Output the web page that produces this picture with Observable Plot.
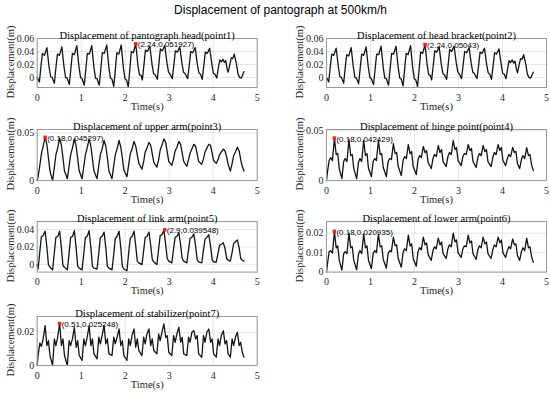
<!DOCTYPE html>
<html><head><meta charset="utf-8">
<script src="https://cdn.jsdelivr.net/npm/d3@7"></script>
<script src="https://cdn.jsdelivr.net/npm/@observablehq/plot@0.6"></script>
<style>
body{margin:0;background:#fff;}
#fig{position:relative;width:550px;height:395px;overflow:hidden;background:#fff;}
#title{position:absolute;left:0;width:561px;top:3px;text-align:center;font:12px "Liberation Sans",Arial,sans-serif;color:#000;}
#fig svg{overflow:visible;}
.ylab{position:absolute;white-space:nowrap;font:10.5px "Liberation Serif","Times New Roman",serif;color:#262626;transform:translate(-50%,-50%) rotate(-90deg);line-height:1;}
</style></head><body><div id="fig"><div id="title">Displacement of pantograph at 500km/h</div></div>
<script>
// ---- data ----
const tA = [0,
0.05,0.09,0.12,0.165,0.22,0.27,0.305,0.34,
0.39,0.43,0.46,0.505,0.56,0.61,0.645,0.68,
0.73,0.77,0.80,0.845,0.90,0.95,0.985,1.02,
1.07,1.11,1.14,1.185,1.24,1.29,1.325,1.36,
1.41,1.45,1.48,1.525,1.58,1.63,1.665,1.70,
1.74,1.78,1.81,1.855,1.91,1.96,1.995,2.03,
2.07,2.11,2.14,2.185,2.24,2.29,2.325,2.36,
2.39,2.43,2.46,2.505,2.56,2.61,2.645,2.68,
2.73,2.77,2.80,2.845,2.90,2.95,2.985,3.02,
3.07,3.11,3.14,3.185,3.24,3.29,3.325,3.36,
3.42,3.46,3.49,3.535,3.59,3.64,3.675,3.71,
3.75,3.79,3.82,3.865,3.92,3.97,4.005,4.04,
4.08,4.12,4.15,4.185,4.22,4.255,4.285,4.32,
4.34,4.38,4.41,4.445,4.48,4.53,4.565,4.60,
4.64,4.70];

const tB = [0,
0.02,0.06,0.095,0.135,0.18,0.22,0.255,0.29,
0.35,0.39,0.425,0.465,0.51,0.55,0.585,0.62,
0.685,0.725,0.76,0.80,0.845,0.885,0.92,0.955,
1.02,1.06,1.095,1.135,1.18,1.22,1.255,1.29,
1.36,1.40,1.435,1.475,1.52,1.56,1.595,1.63,
1.70,1.74,1.775,1.815,1.86,1.90,1.935,1.97,
2.04,2.08,2.115,2.155,2.20,2.24,2.275,2.31,
2.38,2.42,2.455,2.495,2.54,2.58,2.615,2.65,
2.72,2.76,2.795,2.835,2.88,2.92,2.955,2.99,
3.06,3.10,3.135,3.175,3.22,3.26,3.295,3.33,
3.40,3.44,3.475,3.515,3.56,3.60,3.635,3.67,
3.74,3.78,3.815,3.855,3.90,3.94,3.975,4.01,
4.07,4.11,4.145,4.185,4.23,4.27,4.305,4.34,
4.39,4.43,4.465,4.505,4.55,4.59,4.625,4.66,
4.70];

const y1 = [0,
-0.007,0.020,0.037,0.034,0.046,0.016,0.001,0.000,
-0.009,0.018,0.036,0.034,0.047,0.016,0.000,-0.001,
-0.011,0.017,0.037,0.035,0.049,0.016,0.000,-0.002,
-0.012,0.016,0.037,0.036,0.049,0.015,-0.001,-0.002,
-0.012,0.016,0.038,0.037,0.050,0.015,-0.001,-0.003,
-0.014,0.015,0.038,0.036,0.050,0.014,-0.002,-0.004,
-0.015,0.016,0.040,0.038,0.051927,0.018,0.004,0.003,
-0.004,0.022,0.042,0.040,0.048,0.020,0.006,0.004,
-0.003,0.024,0.044,0.041,0.049,0.022,0.008,0.005,
-0.002,0.022,0.041,0.039,0.047,0.022,0.008,0.006,
-0.002,0.021,0.040,0.038,0.046,0.020,0.007,0.005,
-0.003,0.020,0.039,0.037,0.045,0.020,0.006,0.005,
-0.001,0.016,0.027,0.024,0.028,0.023,0.026,0.012,
0.008,0.020,0.030,0.029,0.036,0.020,0.005,0.000,
-0.001,0.009];

const y2 = [0,
-0.007,0.019,0.036,0.034,0.045,0.016,0.001,0.000,
-0.009,0.018,0.035,0.033,0.046,0.016,0.000,-0.001,
-0.010,0.017,0.036,0.034,0.047,0.016,0.000,-0.002,
-0.011,0.016,0.036,0.035,0.048,0.015,-0.001,-0.002,
-0.012,0.016,0.037,0.036,0.048,0.015,-0.001,-0.003,
-0.013,0.015,0.037,0.035,0.049,0.014,-0.002,-0.004,
-0.014,0.016,0.039,0.037,0.05043,0.018,0.004,0.003,
-0.004,0.021,0.041,0.039,0.047,0.020,0.006,0.004,
-0.003,0.023,0.043,0.040,0.048,0.022,0.008,0.005,
-0.002,0.022,0.040,0.038,0.046,0.021,0.008,0.006,
-0.002,0.020,0.039,0.037,0.045,0.020,0.007,0.005,
-0.003,0.020,0.038,0.036,0.044,0.020,0.006,0.005,
-0.002,0.015,0.026,0.023,0.027,0.022,0.025,0.012,
0.007,0.020,0.029,0.028,0.035,0.020,0.005,0.000,
-0.001,0.008];

const y3 = [0,
0.004,0.016,0.028,0.036,0.045297,0.038,0.024,0.010,
0.000,0.014,0.027,0.034,0.0445,0.037,0.024,0.010,
0.002,0.015,0.027,0.034,0.0438,0.036,0.023,0.010,
0.002,0.015,0.027,0.034,0.0437,0.036,0.023,0.010,
0.002,0.016,0.027,0.033,0.042,0.036,0.024,0.010,
0.002,0.016,0.027,0.033,0.042,0.035,0.024,0.011,
0.004,0.017,0.028,0.033,0.041,0.036,0.027,0.018,
0.012,0.020,0.030,0.034,0.040,0.037,0.028,0.019,
0.014,0.022,0.032,0.037,0.0437,0.040,0.030,0.020,
0.016,0.023,0.031,0.035,0.041,0.038,0.029,0.020,
0.015,0.022,0.029,0.033,0.038,0.036,0.028,0.020,
0.017,0.023,0.030,0.034,0.038,0.037,0.029,0.021,
0.018,0.022,0.027,0.030,0.033,0.031,0.025,0.017,
0.010,0.018,0.026,0.030,0.035,0.031,0.022,0.015,
0.010];

const y4 = [0,
0.008,0.020,0.023,0.020,0.042429,0.026,0.027,0.012,
0.002,0.019,0.022,0.019,0.041,0.025,0.026,0.012,
0.002,0.018,0.022,0.019,0.040,0.025,0.027,0.012,
0.004,0.019,0.022,0.020,0.040,0.026,0.027,0.013,
0.004,0.019,0.022,0.021,0.037,0.027,0.028,0.014,
0.005,0.020,0.024,0.022,0.036,0.027,0.029,0.014,
0.006,0.021,0.025,0.023,0.034,0.028,0.030,0.018,
0.012,0.022,0.026,0.024,0.035,0.028,0.031,0.019,
0.014,0.024,0.028,0.026,0.040,0.031,0.033,0.020,
0.015,0.024,0.027,0.026,0.036,0.030,0.032,0.019,
0.013,0.023,0.027,0.025,0.035,0.029,0.031,0.019,
0.014,0.023,0.028,0.026,0.036,0.030,0.033,0.020,
0.015,0.022,0.026,0.024,0.033,0.028,0.029,0.017,
0.012,0.021,0.025,0.022,0.033,0.025,0.026,0.016,
0.010];

const y5 = [0,
-0.005,0.015,0.032,0.033,0.038,0.020,0.000,-0.003,
-0.006,0.014,0.031,0.032,0.038,0.019,-0.001,-0.003,
-0.006,0.013,0.031,0.032,0.0385,0.019,-0.002,-0.004,
-0.006,0.013,0.031,0.032,0.0385,0.019,-0.002,-0.004,
-0.005,0.013,0.031,0.032,0.037,0.019,-0.002,-0.004,
-0.006,0.012,0.030,0.032,0.038,0.019,-0.002,-0.005,
-0.007,0.014,0.030,0.032,0.038,0.021,0.004,0.002,
0.000,0.016,0.031,0.032,0.037,0.022,0.006,0.003,
0.000,0.018,0.033,0.034,0.039548,0.023,0.007,0.004,
0.002,0.018,0.031,0.032,0.036,0.022,0.007,0.004,
0.002,0.017,0.030,0.031,0.035,0.021,0.006,0.003,
0.002,0.017,0.029,0.031,0.034,0.021,0.006,0.003,
0.003,0.013,0.022,0.023,0.025,0.018,0.007,0.005,
0.004,0.014,0.024,0.026,0.028,0.019,0.007,0.005,
0.004];

const y6 = [0,
0.004,0.0105,0.011,0.0098,0.020935,0.0125,0.0135,0.006,
0.001,0.0095,0.0105,0.0095,0.0200,0.0125,0.013,0.006,
0.0012,0.009,0.011,0.0095,0.0195,0.0125,0.0135,0.006,
0.0018,0.0095,0.011,0.010,0.0195,0.013,0.0135,0.0065,
0.002,0.0095,0.011,0.0105,0.018,0.0135,0.014,0.007,
0.0025,0.010,0.012,0.011,0.019,0.0135,0.0145,0.007,
0.003,0.0105,0.0125,0.0115,0.018,0.014,0.015,0.009,
0.006,0.011,0.013,0.012,0.0175,0.014,0.0155,0.0095,
0.007,0.012,0.014,0.013,0.020,0.0155,0.0165,0.010,
0.0075,0.012,0.0135,0.013,0.019,0.015,0.016,0.0095,
0.0065,0.0115,0.0135,0.0125,0.018,0.0145,0.0155,0.0095,
0.007,0.0115,0.014,0.013,0.018,0.015,0.0165,0.010,
0.0075,0.011,0.013,0.012,0.017,0.014,0.0145,0.0085,
0.006,0.0105,0.0125,0.011,0.0175,0.0125,0.013,0.008,
0.005];

const y7 = [0,
0.006,0.0135,0.0115,0.016,0.024,0.012,0.015,0.006,
0.000,0.016,0.012,0.017,0.025248,0.012,0.016,0.006,
0.000,0.015,0.012,0.016,0.023,0.011,0.015,0.006,
0.003,0.016,0.012,0.017,0.024,0.012,0.016,0.007,
0.004,0.017,0.013,0.018,0.024,0.013,0.016,0.007,
0.006,0.017,0.013,0.017,0.022,0.012,0.015,0.006,
0.003,0.016,0.012,0.018,0.022,0.011,0.016,0.009,
0.006,0.017,0.013,0.019,0.022,0.012,0.016,0.009,
0.007,0.019,0.015,0.020,0.025,0.017,0.018,0.008,
0.006,0.018,0.014,0.019,0.023,0.014,0.017,0.007,
0.006,0.017,0.014,0.020,0.021,0.016,0.018,0.007,
0.005,0.018,0.014,0.020,0.022,0.014,0.016,0.007,
0.005,0.016,0.012,0.018,0.021,0.013,0.015,0.007,
0.005,0.016,0.012,0.017,0.020,0.012,0.014,0.008,
0.005];

const titles = [
  "Displacement of pantograph head(point1)",
  "Displacement of head bracket(point2)",
  "Displacement of upper arm(point3)",
  "Displacement of hinge point(point4)",
  "Displacement of link arm(point5)",
  "Displacement of lower arm(point6)",
  "Displacement of stabilizer(point7)"
];
const xTicks = [0, 1, 2, 3, 4, 5];
const yTicks1 = [0, 0.02, 0.04, 0.06];
const yTicks2 = [0, 0.02, 0.04, 0.06];
const yTicks3 = [0, 0.05];
const yTicks4 = [0, 0.05];
const yTicks5 = [0, 0.02, 0.04];
const yTicks6 = [0, 0.01, 0.02];
const yTicks7 = [0, 0.02];
const tipX = [2.24, 2.24, 0.18, 0.18, 2.9, 0.18, 0.51];
const tipY = [0.051927, 0.05043, 0.045297, 0.042429, 0.039548, 0.020935, 0.025248];
const tipText = ["(2.24,0.051927)", "(2.24,0.05043)", "(0.18,0.045297)", "(0.18,0.042429)", "(2.9,0.039548)", "(0.18,0.020935)", "(0.51,0.025248)"];
const xLabel = "Time(s)";
const yLabel = "Displacement(m)";

// ---- layout ----
const serif = "'Liberation Serif','Times New Roman',serif";
const sans = "'Liberation Sans',Arial,sans-serif";
const cols = [[36.7, 256.7], [326, 546]];
const rows = [[37.5, 86.5], [128.7, 179.8], [220.7, 271.3], [315.7, 364.7]];
const panels = [
  {t: tA, y: y1, dom: [-0.0156, 0.06], ticks: yTicks1, c: 0, r: 0},
  {t: tA, y: y2, dom: [-0.0156, 0.06], ticks: yTicks2, c: 1, r: 0},
  {t: tB, y: y3, dom: [0, 0.0535], ticks: yTicks3, c: 0, r: 1},
  {t: tB, y: y4, dom: [0, 0.051], ticks: yTicks4, c: 1, r: 1},
  {t: tB, y: y5, dom: [-0.0085, 0.049], ticks: yTicks5, c: 0, r: 2},
  {t: tB, y: y6, dom: [0, 0.026], ticks: yTicks6, c: 1, r: 2},
  {t: tB, y: y7, dom: [0, 0.0295], ticks: yTicks7, c: 0, r: 3}
];
const fig = document.getElementById("fig");
panels.forEach((p, i) => {
  const fx = cols[p.c], fy = rows[p.r];
  const left = p.c === 0 ? 0 : 275, W = 275, mt = 24, mb = 32;
  const data = p.t.map((d, k) => ({t: d, v: p.y[k]}));
  const tip = [{t: tipX[i], v: tipY[i], s: tipText[i]}];
  const svg = Plot.plot({
    width: W,
    height: (fy[1] - fy[0]) + mt + mb,
    marginLeft: fx[0] - left, marginRight: left + W - fx[1],
    marginTop: mt, marginBottom: mb,
    style: {background: "transparent", overflow: "visible", fontFamily: serif, fontSize: "10px", color: "#262626"},
    x: {domain: [0, 5]},
    y: {domain: p.dom},
    marks: [
      Plot.gridX(xTicks, {stroke: "#000", strokeOpacity: 0.1}),
      Plot.gridY(p.ticks, {stroke: "#000", strokeOpacity: 0.1}),
      Plot.axisX(xTicks, {tickSize: 0, tickPadding: 6, label: null, fontSize: 10, fontFamily: serif}),
      Plot.axisY(p.ticks, {tickSize: 0, tickPadding: 3, label: null, fontSize: 10, fontFamily: serif,
        tickFormat: d => d === 0 ? "0" : d.toFixed(2)}),
      Plot.line(data, {x: "t", y: "v", stroke: "#141414", strokeWidth: 1.3}),
      Plot.frame({stroke: "#9a9a9a", strokeWidth: 1}),
      Plot.dot(tip, {x: "t", y: "v", symbol: "square", r: 2, fill: "#ff1a1a", stroke: "none"}),
      Plot.text(tip, {x: "t", y: "v", text: "s", textAnchor: "start", dx: 2, dy: 1, fontSize: 8, fontFamily: sans, fill: "#000"}),
      Plot.text([titles[i]], {frameAnchor: "top", dy: -7, fontSize: 10.5, fontFamily: serif, fill: "#000"}),
      Plot.text([xLabel], {frameAnchor: "bottom", dy: 22, fontSize: 10.5, fontFamily: serif, fill: "#262626"})
    ]
  });
  svg.style.position = "absolute";
  svg.style.left = left + "px";
  svg.style.top = (fy[0] - mt) + "px";
  svg.style.overflow = "visible";
  fig.appendChild(svg);
  const lab = document.createElement("div");
  lab.className = "ylab";
  lab.textContent = yLabel;
  lab.style.left = (fx[0] - 26) + "px";
  lab.style.top = ((fy[0] + fy[1]) / 2) + "px";
  fig.appendChild(lab);
});
</script></body></html>
